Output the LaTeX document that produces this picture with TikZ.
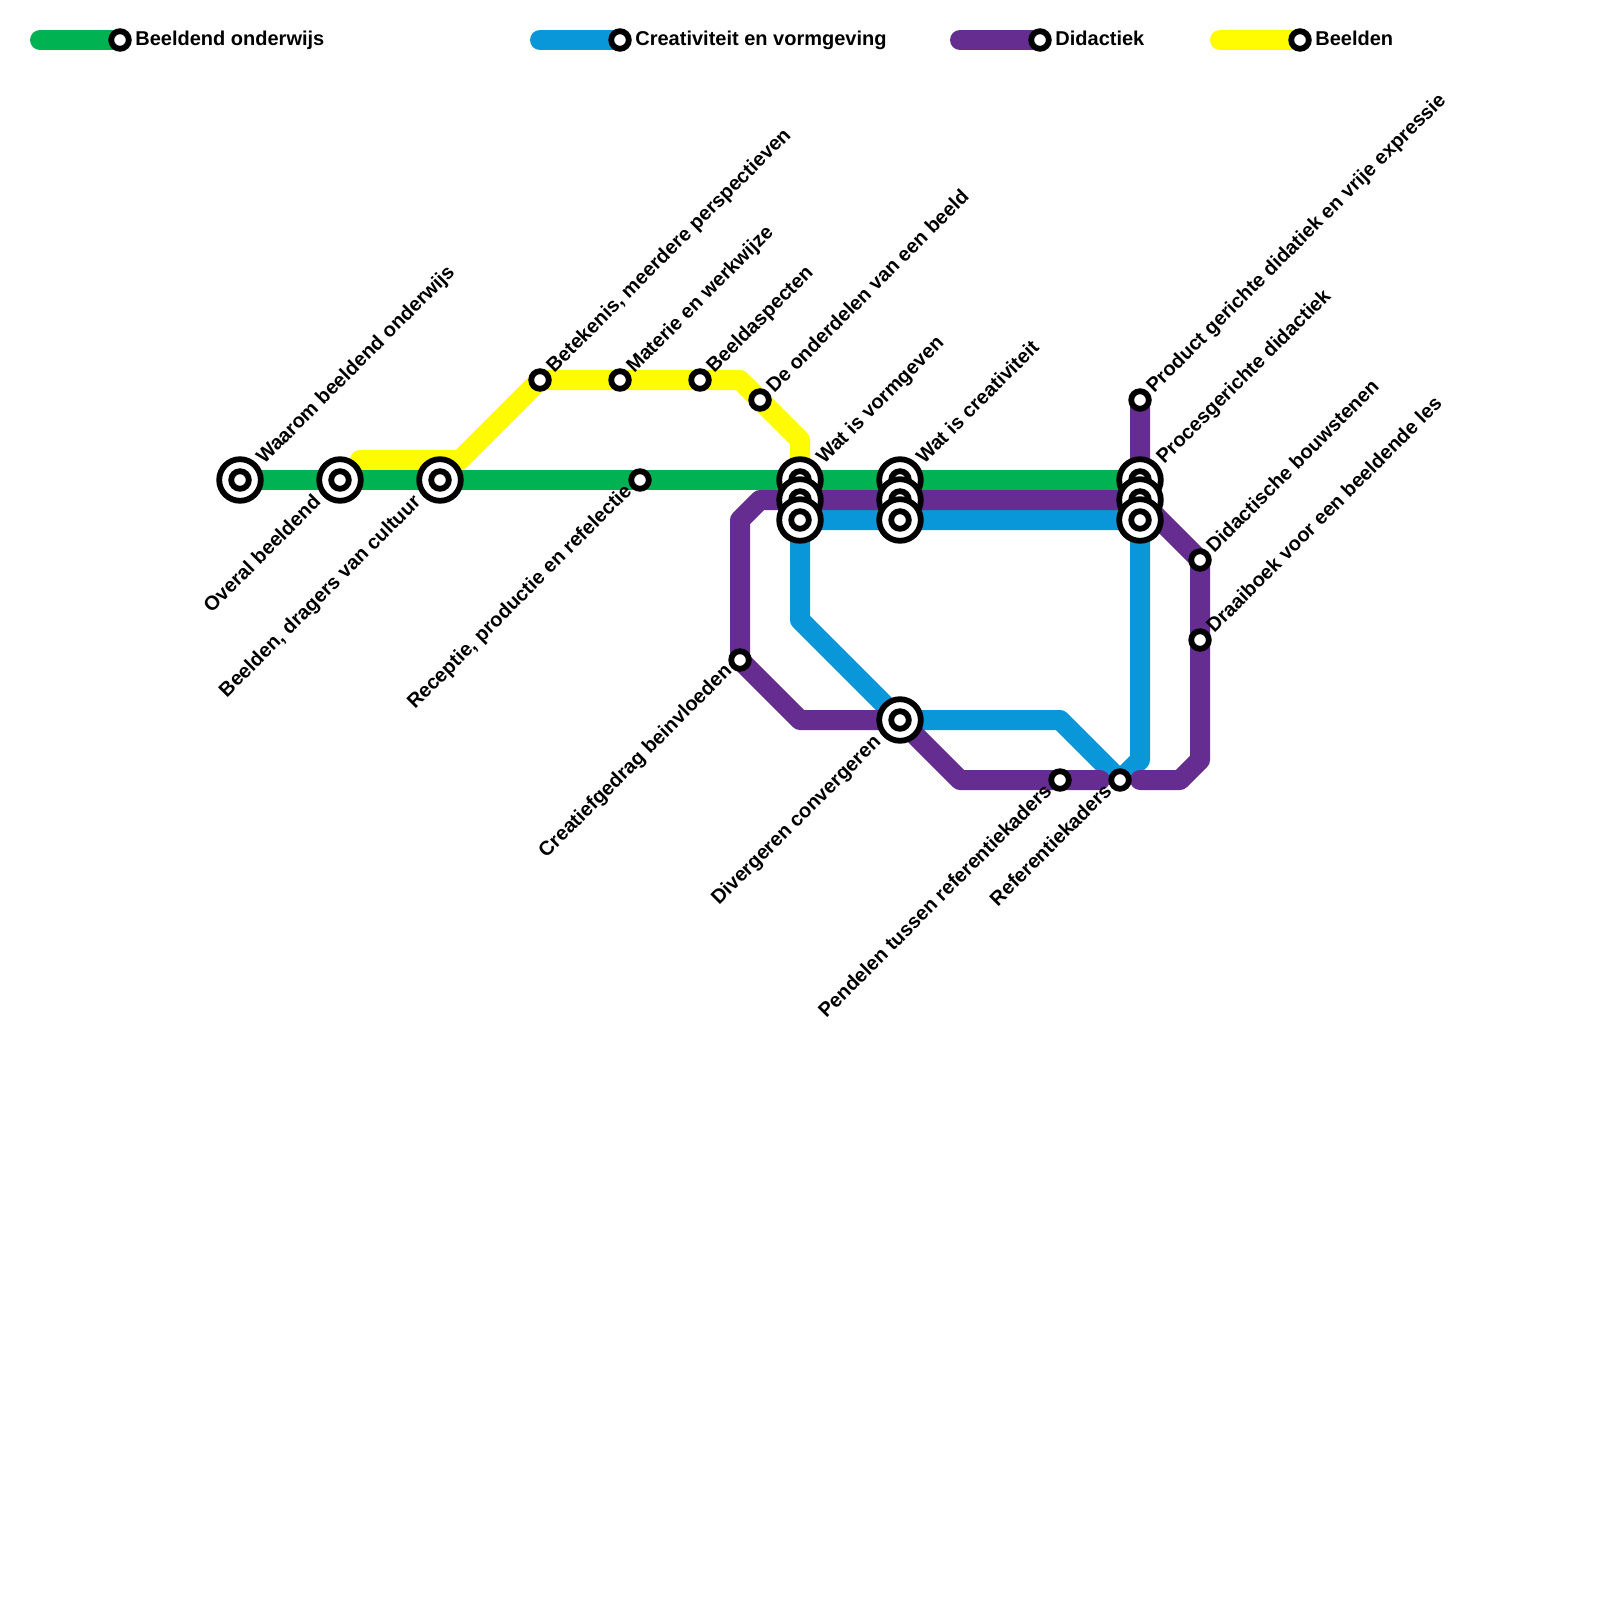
\documentclass[tikz,border=0pt]{standalone}
\usepackage{fontspec}
\setmainfont{Liberation Sans}
\definecolor{linegreen}{HTML}{00B251}
\definecolor{lineblue}{HTML}{0997D9}
\definecolor{linepurple}{HTML}{662D91}
\definecolor{lineyellow}{HTML}{FFFB00}
\tikzset{
    metro/.style={line width=10pt,line cap=round,line join=round},
    stopring/.style={fill=white,draw=black,line width=2.9pt},
    stoplabel/.style={font=\bfseries\fontsize{10}{12}\selectfont,inner sep=0pt},
    uplabel/.style={stoplabel,rotate=45,anchor=base west},
    downlabel/.style={stoplabel,rotate=45,anchor=base east},
    sidelabel/.style={stoplabel,anchor=base west},
}
\begin{document}
\begin{tikzpicture}[x=0.5pt,y=-0.5pt]
\useasboundingbox (0,0) rectangle (1600,1600);

% big stops
\foreach \name/\x/\y in {wa/240/480,ov/340/480,dr/440/480,
    vg1/800/480,vg2/800/500,vg3/800/520,
    cr1/900/480,cr2/900/500,cr3/900/520,
    pg1/1140/480,pg2/1140/500,pg3/1140/520,dc/900/720} {
    \coordinate (\name) at (\x,\y);
}
% small stops
\foreach \name/\x/\y in {be/540/380,ma/620/380,ba/700/380,on/760/400,
    re/640/480,cg/740/660,pe/1060/780,rf/1120/780,
    pr/1140/400,di/1200/560,dk/1200/640} {
    \coordinate (\name) at (\x,\y);
}
% bends
\coordinate (y0) at (360,460);
\coordinate (y1) at (460,460);
\coordinate (y2) at (740,380);
\coordinate (y3) at (800,440);
\coordinate (p0) at (760,500);
\coordinate (p1) at (740,520);
\coordinate (p2) at (800,720);
\coordinate (p3) at (960,780);
\coordinate (p4) at (1100,780);
\coordinate (p5) at (1140,780);
\coordinate (p6) at (1180,780);
\coordinate (p7) at (1200,760);
\coordinate (b1) at (800,620);
\coordinate (b2) at (1060,720);
\coordinate (b3) at (1140,760);

\draw[metro,lineyellow] (y0) -- (y1) -- (be) -- (y2) -- (y3) -- (vg1);
\draw[metro,linegreen] (wa) -- (pg1);
\draw[metro,lineblue] (pg3) -- (vg3) -- (b1) -- (dc) -- (b2) -- (rf) -- (b3) -- (pg3);
\draw[metro,linepurple] (pg2) -- (p0) -- (p1) -- (cg) -- (p2) -- (dc) -- (p3) -- (p4);
\draw[metro,linepurple] (p5) -- (p6) -- (p7) -- (di) -- (pg2) -- (pr);

% legend
\coordinate (lg) at (40,40);
\coordinate (lgs) at (120,40);
\coordinate (lb) at (540,40);
\coordinate (lbs) at (620,40);
\coordinate (lp) at (960,40);
\coordinate (lps) at (1040,40);
\coordinate (ly) at (1220,40);
\coordinate (lys) at (1300,40);
\draw[metro,linegreen] (lg) -- (lgs);
\draw[metro,lineblue] (lb) -- (lbs);
\draw[metro,linepurple] (lp) -- (lps);
\draw[metro,lineyellow] (ly) -- (lys);

\foreach \p in {wa,ov,dr,vg1,vg2,vg3,cr1,cr2,cr3,pg1,pg2,pg3,dc} {
    \filldraw[stopring] (\p) circle[radius=10.4pt];
    \filldraw[stopring] (\p) circle[radius=4.4pt];
}
\foreach \p in {be,ma,ba,on,re,cg,pe,rf,pr,di,dk,lgs,lbs,lps,lys} {
    \filldraw[stopring] (\p) circle[radius=4.4pt];
}

\node[sidelabel] (tg) at (135,46) {Beeldend onderwijs};
\node[sidelabel] (tb) at (635,46) {Creativiteit en vormgeving};
\node[sidelabel] (tp) at (1055,46) {Didactiek};
\node[sidelabel] (ty) at (1315,46) {Beelden};

\foreach \p/\dx/\dy/\lab in {wa/24/-15/Waarom beeldend onderwijs,
    be/14/-6/{Betekenis, meerdere perspectieven},
    ma/14/-6/Materie en werkwijze,
    ba/14/-6/Beeldaspecten,
    on/14/-6/De onderdelen van een beeld,
    vg1/24/-15/Wat is vormgeven,
    cr1/24/-15/Wat is creativiteit,
    pr/14/-6/Product gerichte didatiek en vrije expressie,
    pg1/24/-15/Procesgerichte didactiek,
    di/14/-6/Didactische bouwstenen,
    dk/14/-6/Draaiboek voor een beeldende les} {
    \node[uplabel] (t\p) at ([shift={(\dx,\dy)}]\p) {\lab};
}
\foreach \p/\dx/\dy/\lab in {ov/-18/23/Overal beeldend,
    dr/-18/23/{Beelden, dragers van cultuur},
    re/-7/12/{Receptie, productie en refelectie},
    cg/-7/12/Creatiefgedrag beinvloeden,
    dc/-18/23/Divergeren convergeren,
    pe/-7/12/Pendelen tussen referentiekaders,
    rf/-7/12/Referentiekaders} {
    \node[downlabel] (t\p) at ([shift={(\dx,\dy)}]\p) {\lab};
}
\end{tikzpicture}
\end{document}
